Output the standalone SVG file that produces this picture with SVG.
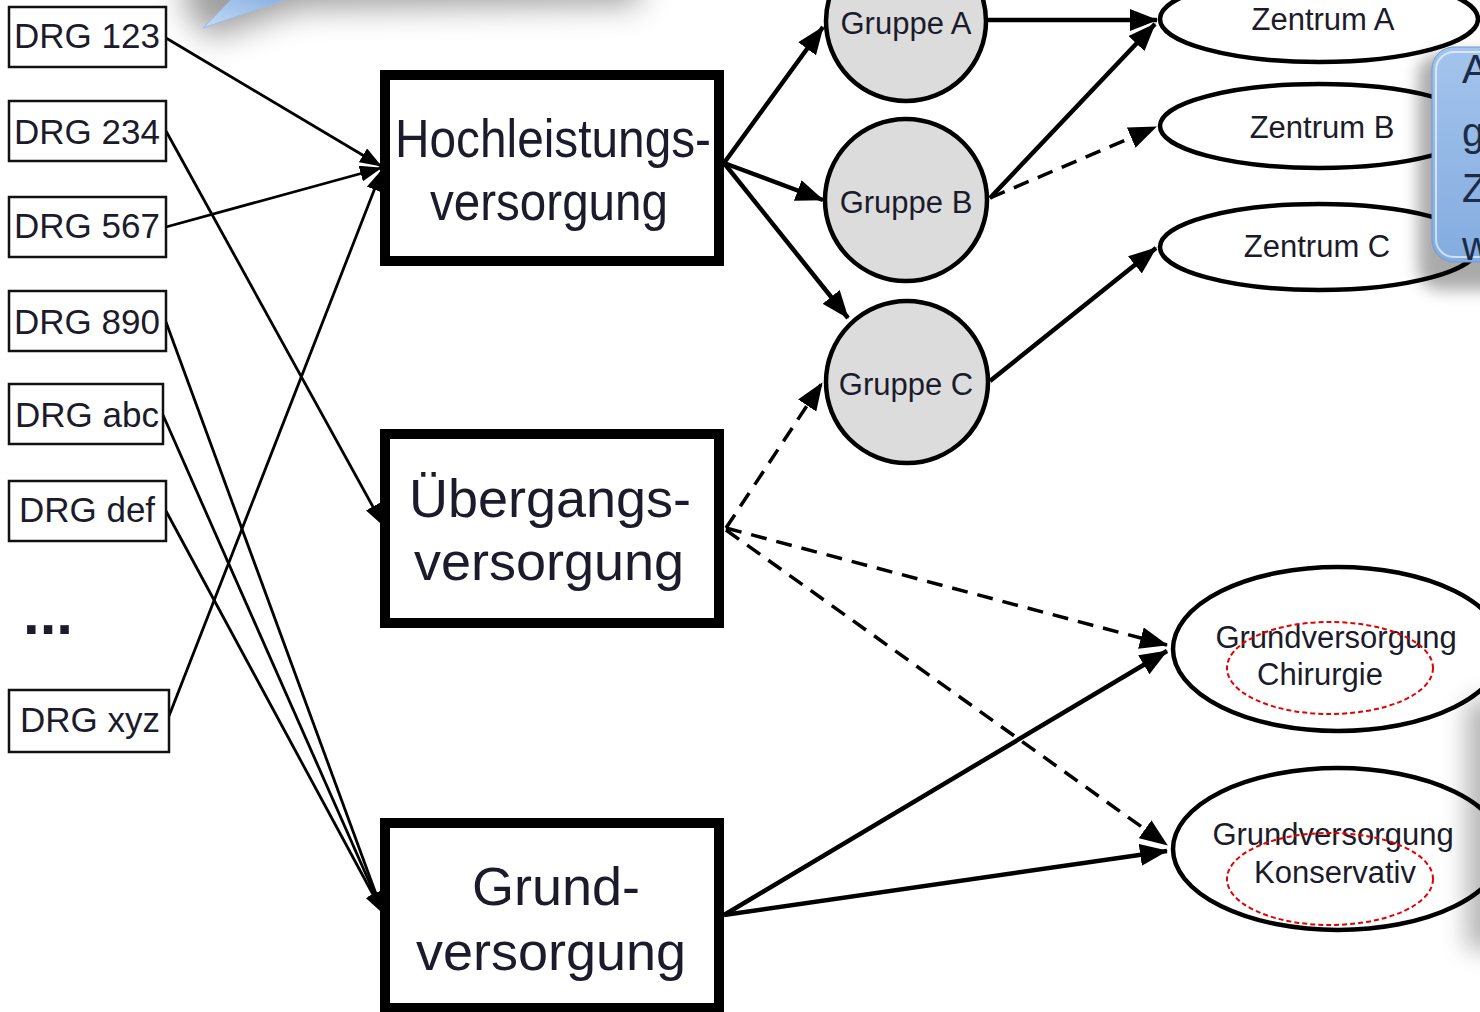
<svg xmlns="http://www.w3.org/2000/svg" width="1480" height="1012" viewBox="0 0 1480 1012">
<defs>
<style>
.drg{fill:#fff;stroke:#111;stroke-width:2.5}
.dt{font-family:"Liberation Sans",Arial,sans-serif;font-size:35px;fill:#1b1b2b;text-anchor:middle}
.big{fill:#fff;stroke:#000;stroke-width:10}
.bt{font-family:"Liberation Sans",Arial,sans-serif;font-size:54px;fill:#1b1b2b;text-anchor:middle}
.grp{fill:#dcdcdc;stroke:#000;stroke-width:4.5}
.gt{font-family:"Liberation Sans",Arial,sans-serif;font-size:31px;fill:#1b1b2b;text-anchor:middle}
.zen{fill:#fff;stroke:#000;stroke-width:4.5}
.red{fill:none;stroke:#e30000;stroke-width:2;stroke-dasharray:5 3}
.thin{stroke:#000;stroke-width:2.8;fill:none;marker-end:url(#ah)}
.thick{stroke:#000;stroke-width:4.5;fill:none;marker-end:url(#ahb)}
.dash{stroke-width:3.5;stroke-dasharray:16 10}
.ct{font-family:"Liberation Sans",Arial,sans-serif;font-size:40px;fill:#1c2b48}
.sh{fill:#000}
</style>
<marker id="ah" markerUnits="userSpaceOnUse" markerWidth="22" markerHeight="16" refX="21" refY="8" orient="auto"><path d="M0,0 L22,8 L0,16 z" fill="#000"/></marker>
<marker id="ahb" markerUnits="userSpaceOnUse" markerWidth="28" markerHeight="22" refX="27" refY="11" orient="auto"><path d="M0,0 L28,11 L0,22 z" fill="#000"/></marker>
<filter id="blur14" x="-50%" y="-50%" width="200%" height="200%"><feGaussianBlur stdDeviation="16"/></filter>
<filter id="blur8" x="-50%" y="-50%" width="200%" height="200%"><feGaussianBlur stdDeviation="8"/></filter>
<filter id="blur12" x="-50%" y="-50%" width="200%" height="200%"><feGaussianBlur stdDeviation="12"/></filter>
<linearGradient id="blue" x1="0" y1="0" x2="0" y2="1"><stop offset="0" stop-color="#a3c4ec"/><stop offset="1" stop-color="#84ace0"/></linearGradient>
<linearGradient id="tail" x1="0" y1="1" x2="1" y2="0"><stop offset="0" stop-color="#c6dcf6"/><stop offset="1" stop-color="#86aee1"/></linearGradient>
</defs>
<rect width="1480" height="1012" fill="#fff"/>

<!-- top-left shadow -->
<path class="sh" d="M185,-60 L640,-60 L640,4 L300,8 L210,38 L185,10 z" opacity="0.38" filter="url(#blur14)"/>

<g id="connectors">
<path class="thin" d="M166,38 L381,166"/>
<path class="thin" d="M166,227 L381,168"/>
<path class="thin" d="M169,716 L382,170"/>
<path class="thin" d="M166,131 L383,525"/>
<path class="thin" d="M166,322 L383,913"/>
<path class="thin" d="M163,415 L383,913"/>
<path class="thin" d="M166,511 L383,913"/>
<path class="thick" d="M724,163 L823,27"/>
<path class="thick" d="M724,163 L823,200"/>
<path class="thick" d="M724,163 L848,318"/>
<path class="thick" d="M986,20 L1157,20"/>
<path class="thick" d="M990,198 L1155,24"/>
<path class="thick dash" d="M990,198 L1156,127"/>
<path class="thick" d="M990,381 L1156,248"/>
<path class="thick dash" d="M726,528 L822,383"/>
<path class="thick dash" d="M726,528 L1167,645"/>
<path class="thick dash" d="M726,530 L1167,845"/>
<path class="thick" d="M724,915 L1167,651"/>
<path class="thick" d="M724,915 L1167,851"/>
</g>

<g id="drg123"><rect class="drg" x="9" y="7" width="157" height="60"/><text class="dt" x="87" y="48">DRG 123</text></g>
<g id="drg234"><rect class="drg" x="9" y="101" width="157" height="60"/><text class="dt" x="87" y="144">DRG 234</text></g>
<g id="drg567"><rect class="drg" x="9" y="197" width="157" height="60"/><text class="dt" x="87" y="238">DRG 567</text></g>
<g id="drg890"><rect class="drg" x="9" y="291" width="157" height="60"/><text class="dt" x="87" y="334">DRG 890</text></g>
<g id="drgabc"><rect class="drg" x="9" y="384" width="154" height="60"/><text class="dt" x="87" y="427">DRG abc</text></g>
<g id="drgdef"><rect class="drg" x="9" y="481" width="157" height="60"/><text class="dt" x="87" y="522">DRG def</text></g>
<g id="dots"><text x="23" y="634" font-family="Liberation Sans, Arial, sans-serif" font-size="60" font-weight="bold" fill="#1b1b2b">...</text></g>
<g id="drgxyz"><rect class="drg" x="9" y="690" width="160" height="62"/><text class="dt" x="90" y="732">DRG xyz</text></g>

<g id="hoch"><rect class="big" x="385" y="75" width="334" height="186"/>
<text class="bt" x="553" y="157" textLength="316" lengthAdjust="spacingAndGlyphs">Hochleistungs-</text>
<text class="bt" x="549" y="220" textLength="238" lengthAdjust="spacingAndGlyphs">versorgung</text></g>
<g id="uebergang"><rect class="big" x="385" y="434" width="334" height="189"/>
<text class="bt" x="550" y="517">Übergangs-</text>
<text class="bt" x="549" y="580">versorgung</text></g>
<g id="grund"><rect class="big" x="385" y="823" width="334" height="185"/>
<text class="bt" x="556" y="905">Grund-</text>
<text class="bt" x="551" y="970">versorgung</text></g>

<g id="gruppeA"><circle class="grp" cx="906" cy="21" r="80"/><text class="gt" x="906" y="34">Gruppe A</text></g>
<g id="gruppeB"><circle class="grp" cx="906" cy="200" r="81"/><text class="gt" x="906" y="213">Gruppe B</text></g>
<g id="gruppeC"><circle class="grp" cx="907" cy="382" r="81"/><text class="gt" x="906" y="395">Gruppe C</text></g>

<g id="zentrumA"><ellipse class="zen" cx="1319" cy="19" rx="159" ry="43"/><text class="gt" x="1323" y="30">Zentrum A</text></g>
<g id="zentrumB"><ellipse class="zen" cx="1319" cy="126" rx="159" ry="42"/><text class="gt" x="1322" y="138">Zentrum B</text></g>
<g id="zentrumC"><ellipse class="zen" cx="1319" cy="247" rx="159" ry="43"/><text class="gt" x="1317" y="257">Zentrum C</text></g>

<g id="chirurgie"><ellipse class="zen" cx="1338" cy="649" rx="165" ry="82"/>
<text class="gt" x="1336" y="648">Grundversorgung</text><text class="gt" x="1320" y="685">Chirurgie</text>
<ellipse class="red" cx="1330" cy="668" rx="103" ry="46"/></g>
<g id="konservativ"><ellipse class="zen" cx="1338" cy="849" rx="165" ry="81"/>
<text class="gt" x="1333" y="845">Grundversorgung</text><text class="gt" x="1335" y="883">Konservativ</text>
<ellipse class="red" cx="1330" cy="879" rx="103" ry="46"/></g>

<!-- shadows of overlays -->
<rect class="sh" x="1466" y="700" width="70" height="250" opacity="0.28" filter="url(#blur12)"/>
<rect class="sh" x="1418" y="54" width="110" height="236" rx="22" opacity="0.33" filter="url(#blur8)"/>

<g id="callout-right">
<rect x="1432" y="47" width="100" height="215" rx="22" fill="url(#blue)" stroke="#7199cf" stroke-width="1"/>
<rect x="1436" y="52" width="100" height="205" rx="18" fill="none" stroke="#fff" stroke-opacity="0.6" stroke-width="2"/>
<text class="ct" x="1462" y="83">A</text>
<text class="ct" x="1462" y="146">g</text>
<text class="ct" x="1462" y="202">Z</text>
<text class="ct" x="1462" y="260">w</text>
</g>
<g id="callout-tail">
<path d="M203,28 L233,-2 L290,-2 z" fill="url(#tail)" stroke="#9cbde6" stroke-width="1"/>
</g>
</svg>
